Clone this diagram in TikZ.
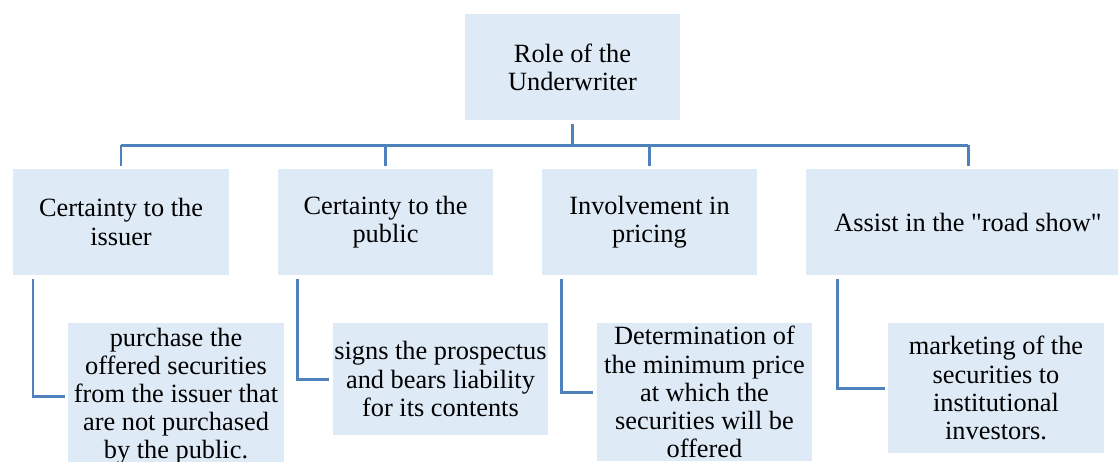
\documentclass[tikz,border=0pt]{standalone}
\usepackage{fontspec}
\setmainfont{Liberation Serif}
\newfontfamily\quotefont{Liberation Serif}
\usepackage{tikz}
\definecolor{boxfill}{HTML}{DEEAF6}
\definecolor{linkblue}{HTML}{4F81BD}
\newcommand{\straightq}{{\quotefont"}}

\begin{document}
\begin{tikzpicture}[x=0.02cm,y=-0.02cm]
\tikzstyle{blk}=[fill=boxfill,align=center,minimum width=4.32cm,minimum height=2.12cm,outer sep=2pt,font=\fontsize{15}{16}\selectfont]
\tikzstyle{leaf}=[blk,inner sep=1pt]
\tikzstyle{link}=[draw=linkblue,line width=1.7pt]
\useasboundingbox (0,0) rectangle (1118,461);
% top and second level
\node[blk] (root) at (572.5,67) {Role of the\\Underwriter};
\node[blk] (issuer) at (121,222) {Certainty to the\\issuer};
\node[blk] (public) at (385.5,222) {Certainty to the\\public};
\node[blk] (pricing) at (649.5,222) {Involvement in\\pricing};
\node[blk,minimum width=6.48cm] (roadshow) at (968,222) {Assist in the \straightq road show\straightq};
% details
\node[leaf,minimum height=2.92cm] (purchase) at (176,396) {purchase the\\offered securities\\from the issuer that\\are not purchased\\by the public.};
\node[leaf,minimum height=2.24cm] (signs) at (440.5,379) {signs the prospectus\\and bears liability\\for its contents};
\node[leaf,minimum height=2.76cm] (minprice) at (704.5,392) {Determination of\\the minimum price\\at which the\\securities will be\\offered};
\node[leaf,minimum height=2.6cm] (marketing) at (996,388) {marketing of the\\securities to\\institutional\\investors.};
% tree
\coordinate (bus) at (572.5,145);
\draw[link] (root.south) -- (bus);
\draw[link] (bus -| issuer.north) -- (bus -| roadshow.north);
\foreach \n in {issuer,public,pricing,roadshow}
  \draw[link] (bus -| \n.north) -- (\n.north);
\draw[link] ([xshift=0.47cm]issuer.south west) |- (purchase.west);
\draw[link] ([xshift=0.47cm]public.south west) |- (signs.west);
\draw[link] ([xshift=0.47cm]pricing.south west) |- (minprice.west);
\draw[link] ([xshift=0.69cm]roadshow.south west) |- (marketing.west);
\end{tikzpicture}
\end{document}
